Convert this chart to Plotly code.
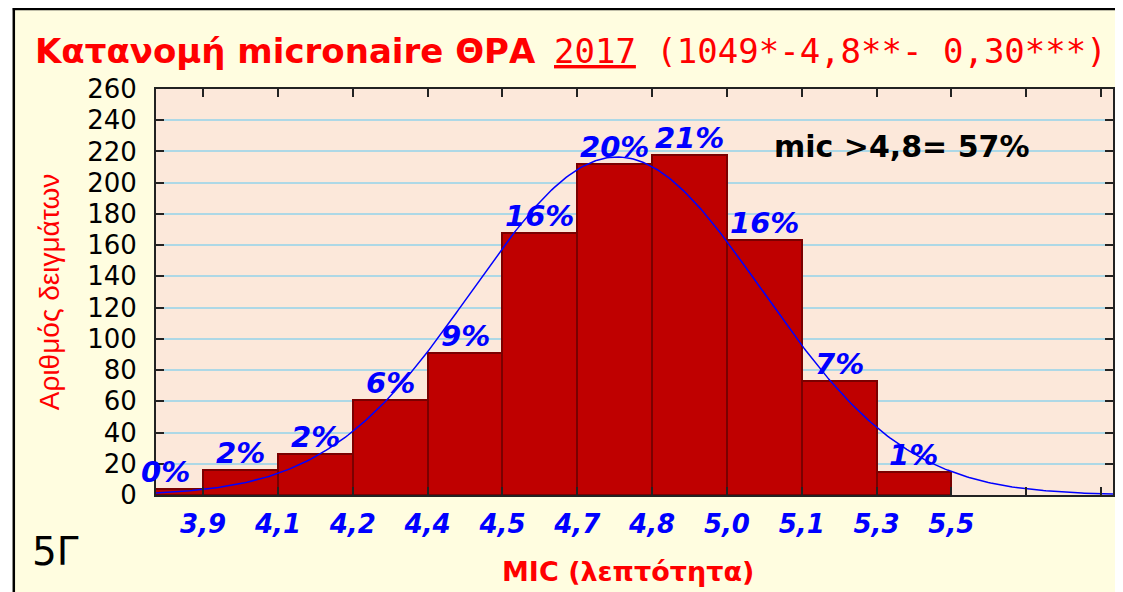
import numpy as np
import plotly.graph_objects as go

# ---------------- data ----------------
bin_edges = [3.75, 3.90, 4.05, 4.20, 4.35, 4.50, 4.65, 4.80, 4.95, 5.10, 5.25, 5.40]
counts = [4, 16, 26, 61, 91, 168, 212, 218, 163, 73, 15]
pct_labels = ["0%", "2%", "2%", "6%", "9%", "16%", "20%", "21%", "16%", "7%", "1%"]
tick_positions = [3.90, 4.05, 4.20, 4.35, 4.50, 4.65, 4.80, 4.95, 5.10, 5.25, 5.40, 5.55, 5.70]
tick_labels = ["3,9", "4,1", "4,2", "4,4", "4,5", "4,7", "4,8", "5,0", "5,1", "5,3", "5,5", "", ""]
y_ticks = list(range(0, 261, 20))

# fitted normal curve parameters
n_samples = 1049
curve_mean = 4.73
curve_sd = 0.29
bin_width = 0.15

title_main = "Κατανομή micronaire ΘΡΑ"
title_rest = "<u>2017</u> (1049*-4,8**- 0,30***)"
y_title = "Αριθμός δειγμάτων"
x_title = "MIC (λεπτότητα)"
note_text = "mic >4,8= 57%"
corner_text = "5Γ"

# ---------------- layout geometry ----------------
OFF = 8  # page body margin
W, H = 1123 - OFF, 592 - OFF
ML, MR, MT, MB = 156 - OFF, 8, 89 - OFF, 97
PW, PH = W - ML - MR, H - MT - MB
x_range = [3.8055, 5.724]


def px(p):  # screen x -> paper
    return (p - OFF - ML) / PW


def py(p):  # screen y -> paper
    return (H - MB - (p - OFF)) / PH


centers = [(bin_edges[i] + bin_edges[i + 1]) / 2 for i in range(len(counts))]
widths = [bin_edges[i + 1] - bin_edges[i] for i in range(len(counts))]

xs = np.linspace(x_range[0], x_range[1], 400)
ys = n_samples * bin_width / (curve_sd * np.sqrt(2 * np.pi)) * np.exp(-0.5 * ((xs - curve_mean) / curve_sd) ** 2)

fig = go.Figure()
fig.add_trace(go.Bar(
    x=centers, y=counts, width=widths,
    marker=dict(color="#BF0000", line=dict(color="#7A0000", width=2)),
    showlegend=False, hoverinfo="skip",
))
fig.add_trace(go.Scatter(
    x=xs, y=ys, mode="lines",
    line=dict(color="#0000FF", width=1.5),
    showlegend=False, hoverinfo="skip",
))

annotations = []
for c, v, t in zip(centers, counts, pct_labels):
    annotations.append(dict(
        x=c, y=v, xref="x", yref="y", text="<b><i>" + t + "</i></b>", showarrow=False,
        xanchor="center", yanchor="middle", yshift=17,
        font=dict(family="DejaVu Sans", size=29, color="#0000FF"),
    ))

annotations += [
    dict(x=px(33), y=py(51), xref="paper", yref="paper", text="<b>" + title_main + "</b>",
         showarrow=False, xanchor="left", yanchor="middle",
         font=dict(family="DejaVu Sans", size=34, color="#FF0000")),
    dict(x=px(1111), y=py(51), xref="paper", yref="paper", text=title_rest,
         showarrow=False, xanchor="right", yanchor="middle",
         font=dict(family="DejaVu Sans Mono", size=34, color="#FF0000")),
    dict(x=px(49), y=py(292), xref="paper", yref="paper", text=y_title,
         showarrow=False, xanchor="center", yanchor="middle", textangle=-90,
         font=dict(family="Liberation Sans", size=28, color="#FF0000")),
    dict(x=px(629), y=py(571), xref="paper", yref="paper", text="<b>" + x_title + "</b>",
         showarrow=False, xanchor="center", yanchor="middle",
         font=dict(family="DejaVu Sans", size=27, color="#FF0000")),
    dict(x=px(903), y=py(146), xref="paper", yref="paper", text="<b>" + note_text + "</b>",
         showarrow=False, xanchor="center", yanchor="middle",
         font=dict(family="DejaVu Sans", size=30, color="#000000")),
    dict(x=px(55), y=py(551), xref="paper", yref="paper", text=corner_text,
         showarrow=False, xanchor="center", yanchor="middle",
         font=dict(family="DejaVu Sans", size=39, color="#000000")),
]

shapes = [
    # white strip left of the frame
    dict(type="rect", xref="paper", yref="paper", x0=px(-20), x1=px(12.5), y0=py(700), y1=py(-20),
         fillcolor="white", line=dict(width=0), layer="above"),
    # black frame lines
    dict(type="line", xref="paper", yref="paper", x0=px(13.5), x1=px(13.5), y0=py(8), y1=py(700),
         line=dict(color="black", width=2.5), layer="above"),
    dict(type="line", xref="paper", yref="paper", x0=px(12.5), x1=px(1200), y0=py(9), y1=py(9),
         line=dict(color="black", width=2.5), layer="above"),
]

fig.update_layout(
    width=W, height=H,
    margin=dict(l=ML, r=MR, t=MT, b=MB, pad=0),
    paper_bgcolor="#FFFDE0",
    plot_bgcolor="#FCE8DA",
    bargap=0,
    annotations=annotations,
    shapes=shapes,
    showlegend=False,
)
fig.update_xaxes(
    range=x_range, tickmode="array", tickvals=tick_positions, ticktext=tick_labels,
    showgrid=False, zeroline=False,
    showline=True, linecolor="#222222", linewidth=2, mirror="ticks",
    ticks="inside", ticklen=8, tickwidth=2, tickcolor="#222222",
    tickfont=dict(family="DejaVu Sans", size=26, color="#0000FF", weight="bold", style="italic"),
    ticklabelstandoff=5,
)
fig.update_yaxes(
    range=[0, 260], tickmode="array", tickvals=y_ticks,
    showgrid=True, gridcolor="#ADD8E6", gridwidth=2, zeroline=False,
    showline=True, linecolor="#222222", linewidth=2, mirror="ticks",
    ticks="inside", ticklen=8, tickwidth=2, tickcolor="#222222",
    tickfont=dict(family="DejaVu Sans", size=26, color="#000000"),
    ticklabelstandoff=12,
)

fig.write_html("out.html")
